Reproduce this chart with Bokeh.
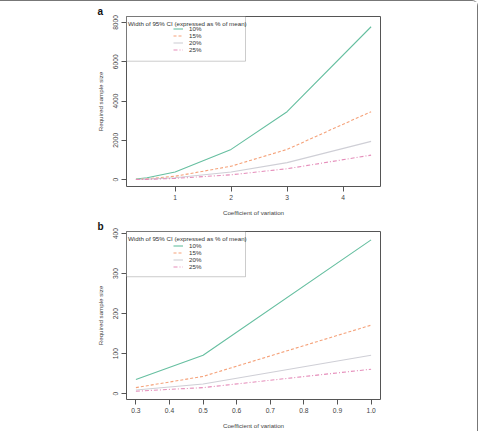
from bokeh.plotting import figure
from bokeh.models import (Range1d, FixedTicker, BoxAnnotation, Label, Legend,
                          LegendItem, PrintfTickFormatter)
from bokeh.layouts import column
from bokeh.embed import file_html
from bokeh.resources import INLINE

# ---------------- data ----------------
cv_a = [0.3, 0.5, 1, 2, 3, 4.5]
a_10 = [35, 96, 384, 1537, 3457, 7779]
a_15 = [15, 43, 171, 683, 1537, 3457]
a_20 = [9, 24, 96, 384, 864, 1945]
a_25 = [6, 15, 61, 246, 553, 1245]

cv_b = [0.3, 0.5, 1.0]
b_10 = [35, 96, 384]
b_15 = [15, 43, 171]
b_20 = [9, 24, 96]
b_25 = [6, 15, 61]

widths = ["10%", "15%", "20%", "25%"]
xticks_a = [1, 2, 3, 4]
yticks_a = [0, 2000, 4000, 6000, 8000]
xticks_b = [0.3, 0.4, 0.5, 0.6, 0.7, 0.8, 0.9, 1.0]
yticks_b = [0, 100, 200, 300, 400]

legend_title = "Width of 95% CI (expressed as % of mean)"
x_label = "Coefficient of variation"
y_label = "Required sample size"

# ---------------- styles ----------------
colors = ["#66BFA0", "#F5A27A", "#CFCFD6", "#E58DBA"]
dashes = ["solid", "3 2", "solid", "4 2 1 2"]
FONT = "Liberation Sans"
GREY = "#555555"


def panel(tag, xs, series, xr, yr, xticks, yticks, xfmt, width, height,
          top, bottom, frame_h):
    p = figure(width=width, height=height, output_backend="svg",
               toolbar_location=None, x_range=Range1d(*xr), y_range=Range1d(*yr),
               min_border_left=126, min_border_right=97,
               min_border_top=top, min_border_bottom=bottom)
    p.xgrid.visible = False
    p.ygrid.visible = False
    p.outline_line_color = GREY
    p.outline_line_width = 1
    p.background_fill_color = "white"
    p.border_fill_color = "white"

    # panel letter as a left-aligned title pulled over the left margin
    p.title.text = tag
    p.title.align = "left"
    p.title.offset = -29
    p.title.standoff = 0
    p.title.text_font = FONT
    p.title.text_font_size = "10px"
    p.title.text_font_style = "bold"
    p.title.text_color = "#111111"

    for ax in (p.xaxis[0], p.yaxis[0]):
        ax.axis_line_color = None
        ax.major_tick_line_color = GREY
        ax.major_tick_out = 5
        ax.major_tick_in = 0
        ax.minor_tick_line_color = None
        ax.major_label_text_font = FONT
        ax.major_label_text_font_size = "6.7px"
        ax.major_label_text_color = "#444444"
        ax.axis_label_text_font = FONT
        ax.axis_label_text_font_size = "6.2px"
        ax.axis_label_text_font_style = "normal"
        ax.axis_label_text_color = "#444444"
        ax.major_label_standoff = 3
    p.xaxis[0].ticker = FixedTicker(ticks=xticks)
    p.yaxis[0].ticker = FixedTicker(ticks=yticks)
    if xfmt:
        p.xaxis[0].formatter = PrintfTickFormatter(format=xfmt)
    p.yaxis[0].major_label_orientation = "vertical"
    p.xaxis[0].axis_label = x_label
    p.yaxis[0].axis_label = y_label
    p.xaxis[0].axis_label_standoff = 6
    p.yaxis[0].axis_label_standoff = 7

    # px -> data helpers (frame: left 126, right 380, height=frame_h)
    def dx(px):
        return xr[0] + (px - 126) / 254.0 * (xr[1] - xr[0])

    def dy(py):  # py measured from frame top downward
        return yr[1] - py / float(frame_h) * (yr[1] - yr[0])

    # legend box
    p.add_layout(BoxAnnotation(left=dx(126), right=dx(245), top=dy(0), bottom=dy(45.5),
                               fill_color="white", fill_alpha=1,
                               line_color=GREY, line_width=1, level="overlay"))
    p.add_layout(Label(x=dx(127.5), y=dy(7), text=legend_title, text_font=FONT,
                       text_font_size="6.2px", text_color="#333333",
                       text_baseline="middle", text_align="left", level="overlay"))

    renderers = []
    for ys, c, d in zip(series, colors, dashes):
        r = p.line(xs, ys, line_color=c, line_width=1.1, line_dash=d)
        renderers.append(r)

    leg = Legend(items=[LegendItem(label=w, renderers=[r]) for w, r in zip(widths, renderers)],
                 location=(47, frame_h - 40), orientation="vertical",
                 glyph_width=10, glyph_height=7, label_height=7, spacing=0,
                 label_standoff=6, padding=0, margin=0,
                 border_line_color=None, background_fill_alpha=0,
                 label_text_font=FONT, label_text_font_size="6.2px",
                 label_text_color="#333333")
    p.add_layout(leg)
    return p


pa = panel("a", cv_a, [a_10, a_15, a_20, a_25], (0.132, 4.668), (-350, 8300),
           xticks_a, yticks_a, None, 477, 217, 15, 29, 173)
pb = panel("b", cv_b, [b_10, b_15, b_20, b_25], (0.272, 1.028), (-14.7, 405),
           xticks_b, yticks_b, "%.1f", 477, 213, 12, 32, 169)

layout = column(pa, pb, spacing=0,
                styles={"border-top": "1px solid #777777",
                        "border-right": "1px solid #777777",
                        "border-top-right-radius": "6px"})

open("out.html", "w").write(file_html(layout, INLINE))
